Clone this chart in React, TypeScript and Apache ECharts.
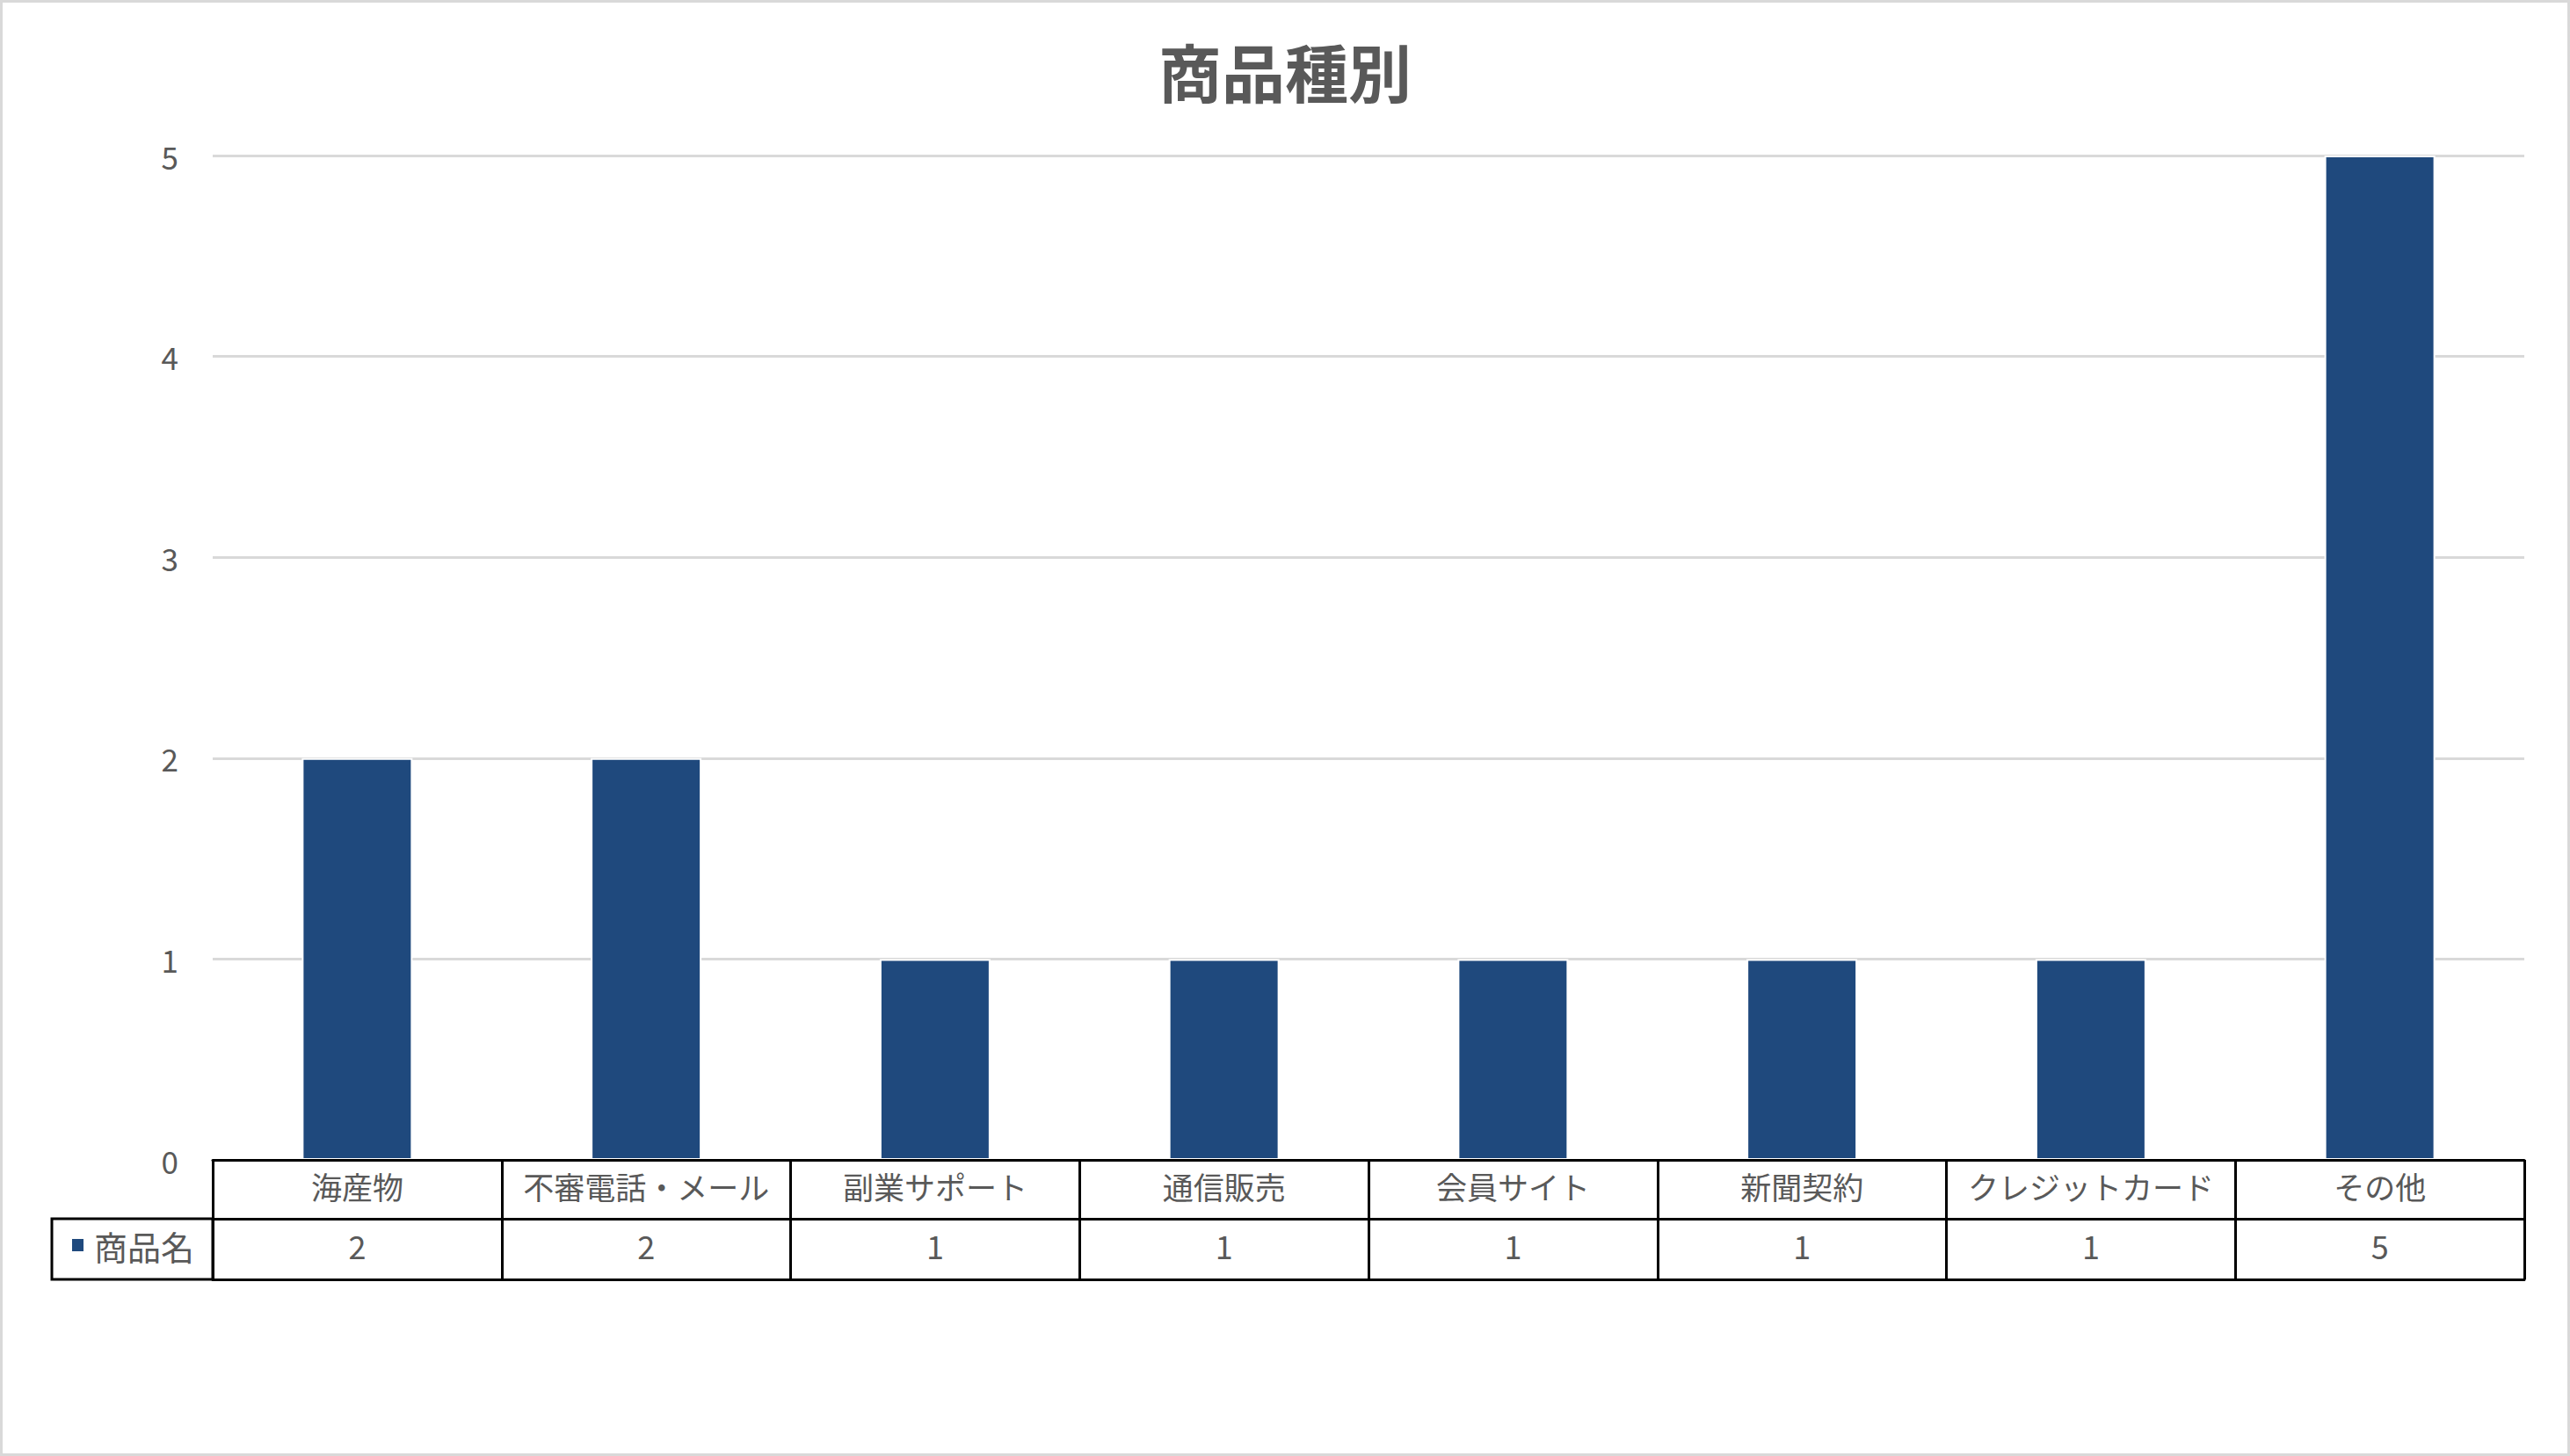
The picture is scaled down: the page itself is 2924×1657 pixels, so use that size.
import { useEffect, useRef } from 'react';
import * as echarts from 'echarts';

const categories = ['海産物', '不審電話・メール', '副業サポート', '通信販売', '会員サイト', '新聞契約', 'クレジットカード', 'その他'];
const counts = [2, 2, 1, 1, 1, 1, 1, 5];
const seriesName = '商品名';
const yTicks = [0, 1, 2, 3, 4, 5];

const FONT = "'Noto Sans CJK JP', 'Noto Sans', sans-serif";
const TEXT = '#595959';
const BAR = '#1f497d';

export default function App() {
  const ref = useRef<HTMLDivElement>(null);

  useEffect(() => {
    if (!ref.current) return;
    const chart = echarts.init(ref.current, undefined, { renderer: 'svg' });
    chart.setOption({
      animation: false,
      backgroundColor: '#ffffff',
      textStyle: { fontFamily: FONT },
      title: {
        text: '商品種別',
        left: 'center',
        top: 37,
        textStyle: { fontSize: 72, fontWeight: 'bold', color: TEXT, fontFamily: FONT, lineHeight: 74 },
      },
      legend: {
        data: [seriesName],
        left: 75,
        top: 1392,
        icon: 'rect',
        itemWidth: 15,
        itemHeight: 16,
        textStyle: { fontSize: 38, color: TEXT, fontFamily: FONT, lineHeight: 40, padding: [0, 0, 0, 6] },
      },
      grid: { left: 242, right: 52, top: 177, bottom: 337 },
      xAxis: [
        {
          type: 'category',
          data: categories,
          position: 'bottom',
          z: 5,
          axisLine: { show: true, lineStyle: { color: '#000', width: 3 } },
          axisTick: { show: true, length: 136, lineStyle: { color: '#000', width: 3 } },
          axisLabel: { fontSize: 35, color: TEXT, fontFamily: FONT, verticalAlign: 'middle', margin: 29, interval: 0 },
        },
        {
          type: 'category',
          data: categories,
          position: 'bottom',
          offset: 67,
          z: 5,
          axisLine: { show: true, lineStyle: { color: '#000', width: 3 } },
          axisTick: { show: false },
          axisLabel: {
            fontSize: 36,
            color: TEXT,
            fontFamily: FONT,
            verticalAlign: 'middle',
            margin: 30,
            interval: 0,
            formatter: (_v: string, i: number) => String(counts[i]),
          },
        },
        {
          type: 'category',
          data: categories,
          position: 'bottom',
          offset: 136,
          z: 5,
          axisLine: { show: true, lineStyle: { color: '#000', width: 3 } },
          axisTick: { show: false },
          axisLabel: { show: false },
        },
      ],
      yAxis: {
        type: 'value',
        min: yTicks[0],
        max: yTicks[yTicks.length - 1],
        interval: 1,
        axisLine: { show: false },
        axisTick: { show: false },
        axisLabel: { fontSize: 35, color: TEXT, fontFamily: FONT, margin: 39, padding: [0, 0, 12, 0] },
        splitLine: { lineStyle: { color: '#d9d9d9', width: 3 } },
      },
      series: [
        {
          name: seriesName,
          type: 'bar',
          data: counts,
          barWidth: 126,
          itemStyle: { color: BAR, borderColor: '#ffffff', borderWidth: 2 },
        },
      ],
      graphic: [
        {
          type: 'rect',
          silent: true,
          shape: { x: 59, y: 1387, width: 183, height: 69 },
          style: { fill: 'none', stroke: '#000', lineWidth: 3 },
        },
        {
          type: 'rect',
          silent: true,
          shape: { x: 1.5, y: 1.5, width: 2921, height: 1654 },
          style: { fill: 'none', stroke: '#d9d9d9', lineWidth: 3 },
        },
      ],
    });
    return () => chart.dispose();
  }, []);

  return <div ref={ref} style={{ position: 'fixed', left: 0, top: 0, width: 2924, height: 1657 }} />;
}
